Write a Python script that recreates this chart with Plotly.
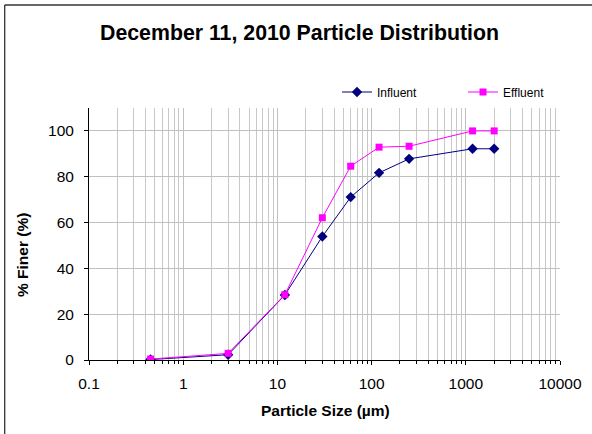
import plotly.graph_objects as go

# Data
particle_size = [0.45, 3, 12, 30, 60, 120, 250, 1180, 2000]
influent = [0.2, 2.3, 28.4, 53.9, 71.1, 81.7, 87.8, 92.2, 92.2]
effluent = [0.4, 2.9, 28.5, 62.1, 84.6, 92.9, 93.3, 100.0, 100.0]
x_tick_vals = [0.1, 1, 10, 100, 1000, 10000]
x_tick_text = ["0.1", "1", "10", "100", "1000", "10000"]
y_tick_vals = [0, 20, 40, 60, 80, 100]

W, H = 592, 434
L, R, T, B = 89, 32, 108, 74
pw, ph = W - L - R, H - T - B

FONT = "Liberation Sans, Arial, sans-serif"

fig = go.Figure()
fig.add_trace(go.Scatter(
    x=particle_size, y=influent, name="Influent", mode="lines+markers",
    line=dict(color="#000080", width=1),
    marker=dict(symbol="diamond", size=8, color="#000080"),
))
fig.add_trace(go.Scatter(
    x=particle_size, y=effluent, name="Effluent", mode="lines+markers",
    line=dict(color="#FF00FF", width=1),
    marker=dict(symbol="square", size=7, color="#FF00FF"),
))

def px_x(p):
    return (p - L) / pw

def px_y(p):
    return (H - B - p) / ph

fig.update_layout(
    width=W, height=H,
    margin=dict(l=L, r=R, t=T, b=B, autoexpand=False),
    paper_bgcolor="white", plot_bgcolor="white",
    font=dict(family=FONT, color="black"),
    title=dict(text="<b>December 11, 2010 Particle Distribution</b>",
               x=299.5 / W, xanchor="center", xref="container",
               y=1 - 33 / H, yanchor="middle", yref="container",
               font=dict(size=21.3, family=FONT, color="black")),
    showlegend=True,
    legend=dict(orientation="h", xref="container", yref="container",
                x=337 / W, xanchor="left",
                y=1 - 92 / H, yanchor="middle",
                font=dict(size=12, family=FONT, color="black"),
                entrywidth=81, bgcolor="rgba(0,0,0,0)", tracegroupgap=0),
    xaxis=dict(type="log", range=[-1, 4], automargin=False,
               tickvals=x_tick_vals, ticktext=x_tick_text,
               showgrid=True, gridcolor="#c0c0c0", gridwidth=1,
               showline=True, linecolor="black", linewidth=1,
               ticks="outside", ticklen=4, tickcolor="black",
               tickfont=dict(size=15.5, family=FONT, color="black"),
               ticklabelstandoff=5,
               minor=dict(dtick="D1", showgrid=True, gridcolor="#c8c8c8", gridwidth=1,
                          ticks="outside", ticklen=3, tickcolor="black"),
               zeroline=False),
    yaxis=dict(range=[0, 110], tickvals=y_tick_vals, automargin=False,
               showgrid=True, gridcolor="#c0c0c0", gridwidth=1,
               showline=True, linecolor="black", linewidth=1,
               ticks="outside", ticklen=4, tickcolor="black",
               tickfont=dict(size=15.5, family=FONT, color="black"),
               ticklabelstandoff=7,
               zeroline=False),
    annotations=[
        dict(text="<b>Particle Size (µm)</b>", xref="paper", yref="paper",
             x=px_x(325.5), y=px_y(410), xanchor="center", yanchor="middle",
             showarrow=False, font=dict(size=15.5, family=FONT, color="black")),
        dict(text="<b>% Finer (%)</b>", xref="paper", yref="paper",
             x=px_x(23), y=px_y(255), xanchor="center", yanchor="middle",
             textangle=-90, showarrow=False,
             font=dict(size=15.5, family=FONT, color="black")),
    ],
    shapes=[
        dict(type="line", xref="paper", yref="paper",
             x0=px_x(4.7), x1=px_x(W + 5), y0=px_y(5), y1=px_y(5),
             line=dict(color="#333333", width=1.3)),
        dict(type="line", xref="paper", yref="paper",
             x0=px_x(4.7), x1=px_x(4.7), y0=px_y(5), y1=px_y(H + 5),
             line=dict(color="#333333", width=1.3)),
    ],
)

fig.write_html("out.html",
               config={"displayModeBar": False},
               post_script="document.body.style.margin='0';document.body.style.overflow='hidden';")
